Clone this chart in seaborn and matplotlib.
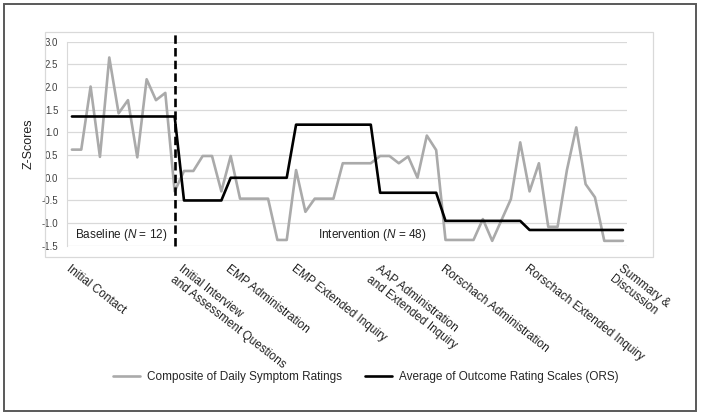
import matplotlib
matplotlib.use('Agg')
import matplotlib.pyplot as plt
from matplotlib.patches import Rectangle
import seaborn as sns
import pandas as pd

# session index 0..59 (12 baseline + 48 intervention)
symptom = [0.62, 0.62, 2.01, 0.46, 2.65, 1.42, 1.71, 0.45, 2.17, 1.71, 1.87, -0.30,
           0.15, 0.15, 0.48, 0.48, -0.30, 0.48, -0.46, -0.46, -0.46, -0.46, -1.37, -1.37,
           0.17, -0.75, -0.46, -0.46, -0.46, 0.32, 0.32, 0.32, 0.32, 0.48, 0.48, 0.32,
           0.47, 0.00, 0.93, 0.61, -1.37, -1.37, -1.37, -1.37, -0.91, -1.39, -0.93, -0.47,
           0.78, -0.30, 0.32, -1.08, -1.08, 0.17, 1.11, -0.14, -0.43, -1.39, -1.39, -1.39]
ors = [1.35] * 12 + [-0.50] * 5 + [0.00] * 7 + [1.17] * 9 + [-0.33] * 7 + [-0.95] * 9 + [-1.15] * 11

phase_ticks = [0, 12, 17, 24, 33, 40, 49, 59]
phase_labels = ["Initial Contact",
                "Initial Interview\nand Assessment Questions",
                "EMP Administration",
                "EMP Extended Inquiry",
                "AAP Administration\nand Extended Inquiry",
                "Rorschach Administration",
                "Rorschach Extended Inquiry",
                "Summary &\nDiscussion"]
baseline_end = 11
yticks = [-1.5, -1.0, -0.5, 0.0, 0.5, 1.0, 1.5, 2.0, 2.5, 3.0]

df = pd.DataFrame({"session": range(len(symptom)), "symptom": symptom, "ors": ors})

sns.set_style("white")
plt.rcParams['font.family'] = ['Liberation Sans', 'DejaVu Sans']
plt.rcParams['mathtext.fontset'] = 'custom'
plt.rcParams['mathtext.rm'] = 'Liberation Sans'
plt.rcParams['mathtext.it'] = 'Liberation Sans:italic'

fig = plt.figure(figsize=(7.01, 4.16), dpi=100)
ax = fig.add_axes([0.095, 0.409, 0.799, 0.491])

for y in yticks:
    ax.axhline(y, color='#d9d9d9', lw=0.9, zorder=0)

sns.lineplot(data=df, x="session", y="symptom", ax=ax, color='#aaaaaa', lw=1.9,
             label="Composite of Daily Symptom Ratings", legend=False)
sns.lineplot(data=df, x="session", y="ors", ax=ax, color='black', lw=1.9,
             label="Average of Outcome Rating Scales (ORS)", legend=False)
ax.axvline(baseline_end, ymin=0, ymax=1.04, color='black', lw=1.9,
           linestyle=(0, (3.2, 1.6)), clip_on=False)

ax.set_xlim(-0.57, 59.4)
ax.set_ylim(-1.5, 3.0)
ax.set_yticks(yticks)
ax.set_yticklabels([f"{v:.1f}" for v in yticks], fontsize=7, color='#404040')
ax.set_xticks(phase_ticks)
ax.set_xticklabels(phase_labels, rotation=-38, ha='left', va='top',
                   rotation_mode='anchor', fontsize=8.5, color='#202020')
ax.tick_params(axis='x', length=0, pad=12)
ax.tick_params(axis='y', length=0, pad=6)
ax.set_xlabel("")
ax.set_ylabel("Z-Scores", fontsize=9, color='#202020', labelpad=5)
for s in ['top', 'right', 'bottom']:
    ax.spines[s].set_visible(False)
ax.spines['left'].set_color('#d9d9d9')

ax.text(0.3, -1.27, "Baseline ($\\it{N}$ = 12)", fontsize=8.5, va='center', color='#202020')
ax.text(26.3, -1.27, "Intervention ($\\it{N}$ = 48)", fontsize=8.5, va='center', color='#202020')

handles, labels = ax.get_legend_handles_labels()
fig.legend(handles, labels, loc='center', bbox_to_anchor=(0.522, 0.094), ncol=2,
           frameon=False, fontsize=8.5, handlelength=2.3, columnspacing=1.9,
           handletextpad=0.6)

fig.add_artist(Rectangle((0.064, 0.382), 0.867, 0.541, transform=fig.transFigure,
                         fill=False, edgecolor='#d9d9d9', lw=0.9))
fig.add_artist(Rectangle((0.0057, 0.012), 0.987, 0.978, transform=fig.transFigure,
                         fill=False, edgecolor='#595959', lw=1.4))

fig.savefig("out.png", dpi=100)
